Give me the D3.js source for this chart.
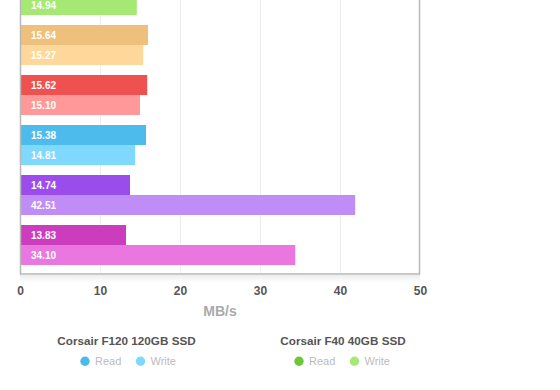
<!DOCTYPE html>
<html><head><meta charset="utf-8">
<script src="https://cdn.jsdelivr.net/npm/d3@7"></script>
<style>
html,body{margin:0;padding:0;background:#fff;}
svg{display:block;font-family:"Liberation Sans",Arial,Helvetica,sans-serif;}
</style></head>
<body>
<svg id="chart" width="560" height="390"></svg>
<script>
// Groups from top to bottom (the top group is cut off by the view)
const groups = ["Corsair F40 40GB SSD","Group 2","Group 3","Group 4","Group 5","Group 6"];
// value labels printed on the bars
const readLabels  = [null, "15.64", "15.62", "15.38", "14.74", "13.83"];
const writeLabels = ["14.94", "15.27", "15.10", "14.81", "42.51", "34.10"];
// bar lengths as drawn in the picture (MB/s)
const readBars  = [null, 16.0, 15.9, 15.75, 13.75, 13.25];
const writeBars = [14.6, 15.4, 15.0, 14.4, 41.9, 34.4];
const readColors  = ["#6cc83a", "#eec07b", "#ef5151", "#4dbbeb", "#9b4deb", "#cc3dbd"];
const writeColors = ["#a6e874", "#fed89a", "#ff9999", "#7fd8fd", "#c08cf6", "#ea77df"];
const xTicks = [0, 10, 20, 30, 40, 50];
const xTitle = "MB/s";
const legendGroups = ["Corsair F120 120GB SSD", "Corsair F40 40GB SSD"];
const legendItems = ["Read", "Write"];
const legendColors = [["#4db8ea", "#7fd8fd"], ["#6cc83a", "#a6e874"]];

const svg = d3.select("#chart");
const left = 20, right = 420, bottom = 274;

const x = d3.scaleLinear().domain([0, 50]).range([left, right]);
const y = d3.scaleBand().domain(groups).range([-34, bottom]).paddingInner(0.2).paddingOuter(0.18);
const ySub = d3.scaleBand().domain(["read", "write"]).range([0, y.bandwidth()]);

// shadow under plot
const defs = svg.append("defs");
const grad = defs.append("linearGradient").attr("id","sh").attr("x1",0).attr("y1",0).attr("x2",0).attr("y2",1);
grad.append("stop").attr("offset","0%").attr("stop-color","#000").attr("stop-opacity",0.07);
grad.append("stop").attr("offset","100%").attr("stop-color","#000").attr("stop-opacity",0);
svg.append("rect").attr("x", left).attr("y", bottom + 1).attr("width", right - left).attr("height", 8).attr("fill", "url(#sh)");

// grid
svg.append("g").selectAll("line").data(xTicks.slice(1, -1)).join("line")
  .attr("x1", d => x(d) + 0.5).attr("x2", d => x(d) + 0.5)
  .attr("y1", 0).attr("y2", bottom)
  .attr("stroke", "#ececec").attr("stroke-width", 1);

// bars
const rows = groups.map((g, i) => ({g, i}));
const gg = svg.append("g").selectAll("g").data(rows).join("g")
  .attr("transform", d => `translate(0,${y(d.g)})`);

[["read", readBars, readLabels, readColors], ["write", writeBars, writeLabels, writeColors]].forEach(([k, bars, labels, cols]) => {
  const sel = gg.filter(d => bars[d.i] != null);
  sel.append("rect")
    .attr("x", x(0)).attr("y", ySub(k))
    .attr("width", d => x(bars[d.i]) - x(0))
    .attr("height", ySub.bandwidth())
    .attr("fill", d => cols[d.i]);
  sel.append("text")
    .attr("x", x(0) + 11).attr("y", ySub(k) + ySub.bandwidth() / 2)
    .attr("dy", "0.36em")
    .attr("fill", "#fff").attr("font-size", 10).attr("font-weight", "bold")
    .text(d => labels[d.i]);
});

// border
svg.append("path")
  .attr("d", `M${left + 0.5},0V${bottom}H${right - 0.5}V0`)
  .attr("fill", "none").attr("stroke", "#b8b8b8").attr("stroke-width", 1.5);

// x axis labels
const ax = svg.append("g").attr("transform", `translate(0,${bottom})`)
  .call(d3.axisBottom(x).tickValues(xTicks).tickSize(0).tickPadding(0).tickFormat(d3.format("d")));
ax.select(".domain").remove();
ax.selectAll("text").attr("y", 20.8).attr("dy", 0)
  .attr("font-family", "Liberation Sans, Arial, sans-serif")
  .attr("font-size", 12).attr("font-weight", "bold").attr("fill", "#555");

svg.append("text").attr("x", x(25)).attr("y", 316).attr("text-anchor", "middle")
  .attr("font-size", 14).attr("font-weight", "bold").attr("fill", "#aaa").text(xTitle);

// legend
const legCenters = [126.5, 343];
const circleX = [[85, 140.5], [299, 354.5]];
legendGroups.forEach((name, gi) => {
  svg.append("text").attr("x", legCenters[gi]).attr("y", 345.2).attr("text-anchor", "middle")
    .attr("font-size", 11.7).attr("font-weight", "bold").attr("fill", "#555").text(name);
  legendItems.forEach((it, ii) => {
    svg.append("circle").attr("cx", circleX[gi][ii]).attr("cy", 361.3).attr("r", 4.7)
      .attr("fill", legendColors[gi][ii]);
    svg.append("text").attr("x", circleX[gi][ii] + 10).attr("y", 365.2)
      .attr("font-size", 11).attr("fill", "#bbb").text(it);
  });
});
</script>
</body></html>
